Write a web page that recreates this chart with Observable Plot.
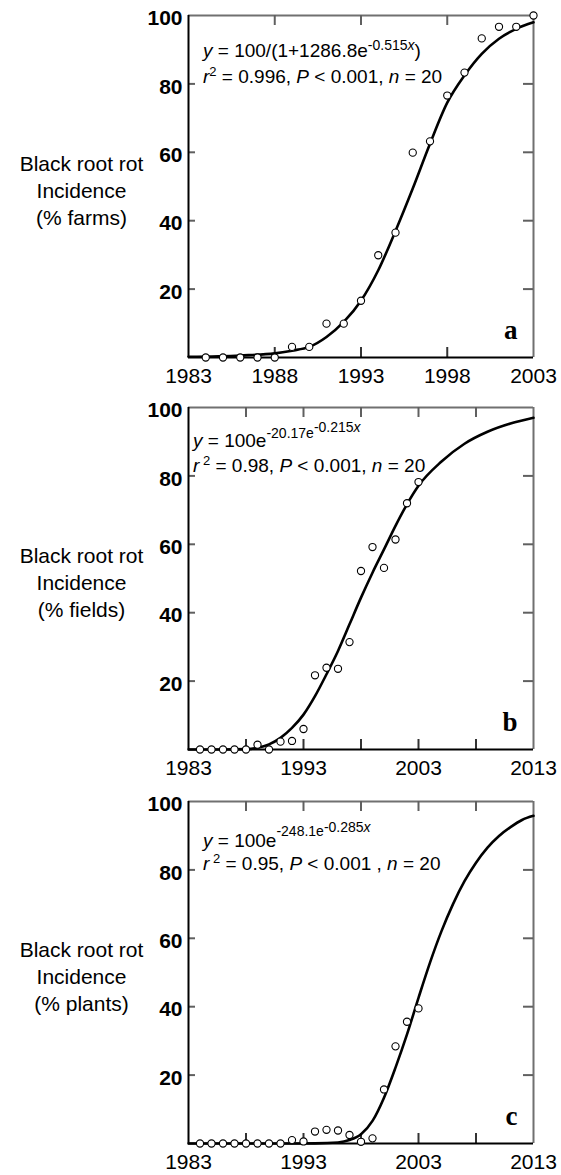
<!DOCTYPE html>
<html><head><meta charset="utf-8">
<script src="https://cdn.jsdelivr.net/npm/d3@7"></script>
<script src="https://cdn.jsdelivr.net/npm/@observablehq/plot@0.6"></script>
<style>
body{margin:0;background:#fff;width:561px;height:1175px;position:relative;overflow:hidden;font-family:"Liberation Sans",Arial,sans-serif}
.panel{position:absolute;left:0}
</style></head><body>
<div id="pa" class="panel" style="top:0"></div>
<div id="pb" class="panel" style="top:392px"></div>
<div id="pc" class="panel" style="top:786px"></div>
<script>
// ---- data ----
const years = [1984,1985,1986,1987,1988,1989,1990,1991,1992,1993,1994,1995,1996,1997,1998,1999,2000,2001,2002,2003];
const farmsPct  = [0,0,0,0,0,3.1,3.1,9.9,9.9,16.6,29.9,36.5,59.9,63.2,76.6,83.3,93.3,96.7,96.7,100];
const fieldsPct = [0,0,0,0,0,1.4,0,2.3,2.5,6.0,21.7,23.9,23.6,31.4,52.2,59.2,53.1,61.4,72.0,78.2];
const plantsPct = [0,0,0,0,0,0,0,0,1.0,0.6,3.5,4.0,3.8,2.5,0.5,1.5,15.8,28.4,35.6,39.5];

// fitted curves
const fitYearsA = [1983,1986,1988,1989,1990,1991,1992,1993,1994,1995,1996,1997,1998,1999,2000,2001,2002,2003];
const fitA      = [0.2,0.6,1.2,2.0,3.1,6.0,10.4,16.6,25.5,37,49.4,62.5,74.5,82.5,88.8,93.2,96.1,98];
const fitYearsB = [1983,1986,1988,1989,1990,1991,1992,1993,1994,1995,1996,1997,1998,1999,2000,2001,2002,2003,2005,2007,2009,2011,2013];
const fitB      = [0,0,0.1,0.5,1.5,3.4,6.3,10.2,15.6,22,28.8,36.6,44.4,51.7,58.5,65.4,71.7,77.1,84.2,89.4,92.9,95.3,97.0];
const fitYearsC = [1983,1990,1994,1996,1997,1998,1999,2000,2001,2002,2003,2004,2005,2006,2007,2008,2009,2010,2011,2012,2013];
const fitC      = [0,0,0.05,0.3,1,2.7,6.6,13.4,22.2,31.9,42.6,52.9,62.1,70,76.7,82.1,86.5,89.9,92.5,94.6,95.8];

const yTickLabels = [20,40,60,80,100];
const yTicksInner = [20,40,60,80];
const xLabelsA = [1983,1988,1993,1998,2003];
const xTicksA  = [1988,1993,1998];
const xLabelsBC = [1983,1993,2003,2013];
const xTicksBC  = [1988,1993,1998,2003,2008];

const yTitles = ["Black root rot\nIncidence\n(% farms)", "Black root rot\nIncidence\n(% fields)", "Black root rot\nIncidence\n(% plants)"];
const letters = ["a","b","c"];

const W = 561, H = 390, ML = 188, MR = 28, MT = 15, MB = 33;
const PW = W - ML - MR, PH = H - MT - MB;
const FONT = "Liberation Sans, Arial, sans-serif";
const FRAME_GRAY = "#707070";
const TICK_GRAY = "#606060";

function richLine(svg, x, y, parts, fs) {
  const t = d3.select(svg).append("text")
    .attr("x", x).attr("y", y).attr("font-size", fs).attr("text-anchor", "start")
    .attr("font-family", FONT).attr("fill", "#000");
  let cur = 0;
  for (const p of parts) {
    const r = p.raise || 0;
    const ts = t.append("tspan").attr("dy", -(r - cur)).text(p.t);
    cur = r;
    if (p.size) ts.attr("font-size", p.size);
    if (p.i) ts.attr("font-style", "italic");
  }
}

function panel(el, {xDomain, xLabels, xTicks, vals, fitYears, fitVals, yTitle, letter, lines, textX, textY}) {
  const pts = years.map((y, i) => ({year: y, v: vals[i]}));
  const fit = fitYears.map((y, i) => ({year: y, v: fitVals[i]}));
  const chart = Plot.plot({
    width: W, height: H,
    marginLeft: ML, marginRight: MR, marginTop: MT, marginBottom: MB,
    style: {fontFamily: FONT},
    x: {domain: xDomain},
    y: {domain: [0, 100]},
    marks: [
      // frame: grey top and right
      Plot.ruleY([100], {y: d => d, stroke: FRAME_GRAY, strokeWidth: 2}),
      Plot.ruleX([xDomain[1]], {x: d => d, stroke: FRAME_GRAY, strokeWidth: 2}),
      // inward ticks on all four sides
      Plot.ruleY(yTicksInner, {y: d => d, stroke: TICK_GRAY, strokeWidth: 2, insetRight: PW - 7}),
      Plot.ruleY(yTicksInner, {y: d => d, stroke: TICK_GRAY, strokeWidth: 2, insetLeft: PW - 10}),
      Plot.ruleX(xTicks, {x: d => d, stroke: TICK_GRAY, strokeWidth: 2, insetBottom: PH - 10}),
      Plot.ruleX(xTicks, {x: d => d, stroke: "#333", strokeWidth: 2, insetTop: PH - 10}),
      // black left and bottom axis lines
      Plot.ruleX([xDomain[0]], {x: d => d, stroke: "#000", strokeWidth: 2}),
      Plot.ruleY([0], {y: d => d, stroke: "#000", strokeWidth: 2}),
      Plot.axisY({ticks: yTickLabels, label: null, tickSize: 0, tickPadding: 6, fontSize: 21, fontWeight: "bold", dy: 3}),
      Plot.axisX({ticks: xLabels, label: null, tickSize: 0, tickPadding: 11, fontSize: 21, tickFormat: d => String(d)}),
      Plot.line(fit, {x: "year", y: "v", curve: "monotone-x", stroke: "#000", strokeWidth: 2.6}),
      Plot.dot(pts, {x: "year", y: "v", r: 3.6, stroke: "#000", strokeWidth: 1.1, fill: "white"}),
      Plot.text([yTitle], {text: d => d, frameAnchor: "left", dx: -107, dy: 3, textAnchor: "middle", lineHeight: 1.27, fontSize: 21, fill: "#000"}),
      Plot.text([letter], {text: d => d, frameAnchor: "bottom-right", dx: -16, dy: -19, textAnchor: "end", lineAnchor: "bottom",
        fontFamily: "Liberation Serif, Times New Roman, serif", fontWeight: "bold", fontSize: 27, fill: "#000"})
    ]
  });
  lines.forEach((parts, k) => richLine(chart, ML + textX, MT + textY[k], parts, 19));
  document.getElementById(el).appendChild(chart);
}

panel("pa", {
  xDomain: [1983, 2003], xLabels: xLabelsA, xTicks: xTicksA, vals: farmsPct,
  fitYears: fitYearsA, fitVals: fitA, yTitle: yTitles[0], letter: letters[0],
  textX: 15, textY: [42, 68],
  lines: [
    [{t: "y", i: 1}, {t: " = 100/(1+1286.8e"}, {t: "-0.515", raise: 7, size: 14}, {t: "x", i: 1, raise: 7, size: 14}, {t: ")"}],
    [{t: "r", i: 1}, {t: "2", raise: 7, size: 13}, {t: " = 0.996, "}, {t: "P", i: 1}, {t: " < 0.001, "}, {t: "n", i: 1}, {t: " = 20"}]
  ]
});
panel("pb", {
  xDomain: [1983, 2013], xLabels: xLabelsBC, xTicks: xTicksBC, vals: fieldsPct,
  fitYears: fitYearsB, fitVals: fitB, yTitle: yTitles[1], letter: letters[1],
  textX: 5, textY: [40, 65],
  lines: [
    [{t: "y", i: 1}, {t: " = 100e"}, {t: "-20.17e", raise: 9, size: 14}, {t: "-0.215", raise: 15, size: 14}, {t: "x", i: 1, raise: 15, size: 14}],
    [{t: "r", i: 1}, {t: " 2", raise: 7, size: 13}, {t: " = 0.98, "}, {t: "P", i: 1}, {t: " < 0.001, "}, {t: "n", i: 1}, {t: " = 20"}]
  ]
});
panel("pc", {
  xDomain: [1983, 2013], xLabels: xLabelsBC, xTicks: xTicksBC, vals: plantsPct,
  fitYears: fitYearsC, fitVals: fitC, yTitle: yTitles[2], letter: letters[2],
  textX: 15, textY: [46, 69],
  lines: [
    [{t: "y", i: 1}, {t: " = 100e"}, {t: "-248.1e", raise: 11, size: 14}, {t: "-0.285", raise: 15, size: 14}, {t: "x", i: 1, raise: 15, size: 14}],
    [{t: "r", i: 1}, {t: " 2", raise: 7, size: 13}, {t: " = 0.95, "}, {t: "P", i: 1}, {t: " < 0.001 , "}, {t: "n", i: 1}, {t: " = 20"}]
  ]
});
</script>
</body></html>
